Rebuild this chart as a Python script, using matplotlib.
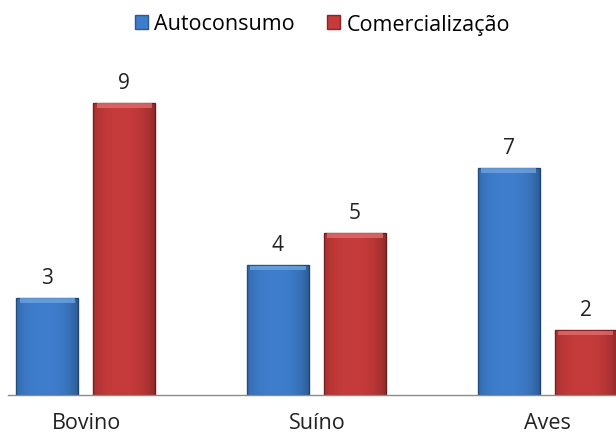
import matplotlib.pyplot as plt
import numpy as np

# data
categories = ['Bovino', 'Suíno', 'Aves']
autoconsumo = [3, 4, 7]
comercializacao = [9, 5, 2]
series_names = ['Autoconsumo', 'Comercialização']

plt.rcParams['font.family'] = ['Open Sans', 'DejaVu Sans']

fig = plt.figure(figsize=(6.16, 4.35), dpi=100)
ax = fig.add_axes([8 / 616, 39 / 435, 608 / 616, 325 / 435])

x = np.arange(len(categories))
w = 0.269
offs = [-0.169, 0.165]
colors = ['#3d7dcb', '#c53a3a']
edges = ['#2a5a92', '#8a2626']
tops = ['#72a6e2', '#e27070']

# shading overlay for the bevel look: darker toward the sides
t = np.linspace(0, 1, 64)
shade = np.zeros((1, 64, 4))
shade[0, :, 3] = np.clip(0.28 * (np.abs(t - 0.45) / 0.55) ** 3, 0, 0.3)

handles = []
for vals, off, c, ec, tc, name in zip([autoconsumo, comercializacao], offs,
                                      colors, edges, tops, series_names):
    vals = np.array(vals, dtype=float)
    b = ax.bar(x + off, vals, w, color=c, edgecolor=ec, linewidth=1.0, zorder=2, label=name)
    for p in b.patches:
        im = ax.imshow(shade, extent=[p.get_x(), p.get_x() + p.get_width(), 0, p.get_height()],
                       aspect='auto', zorder=2.5, interpolation='bicubic')
        im.set_clip_path(p)
    # light bevel strip on top
    ax.bar(x + off, np.full_like(vals, 0.13), w * 0.9, bottom=vals - 0.16,
           color=tc, linewidth=0, zorder=3, alpha=0.75)
    handles.append(b)
    for xi, v in zip(x + off, vals):
        ax.text(xi, v + 0.3, '%d' % v, ha='center', va='bottom', fontsize=15, color='#222222')

ax.set_xlim(-0.34, 2.297)
ax.set_ylim(0, 10)
ax.set_xticks(x)
ax.set_xticklabels(categories, fontsize=15.5, color='#222222')
ax.tick_params(axis='x', length=0, pad=12)
ax.set_yticks([])
for s in ['top', 'right', 'left']:
    ax.spines[s].set_visible(False)
ax.spines['bottom'].set_color('#8c8c8c')
ax.spines['bottom'].set_linewidth(1.0)

fig.legend(handles=handles, labels=series_names, loc='center', bbox_to_anchor=(0.523, 1 - 25 / 435),
           ncol=2, frameon=False, fontsize=15.5, handlelength=0.6, handleheight=0.6,
           handletextpad=0.3, columnspacing=1.5)

fig.savefig('out.png', dpi=100)
